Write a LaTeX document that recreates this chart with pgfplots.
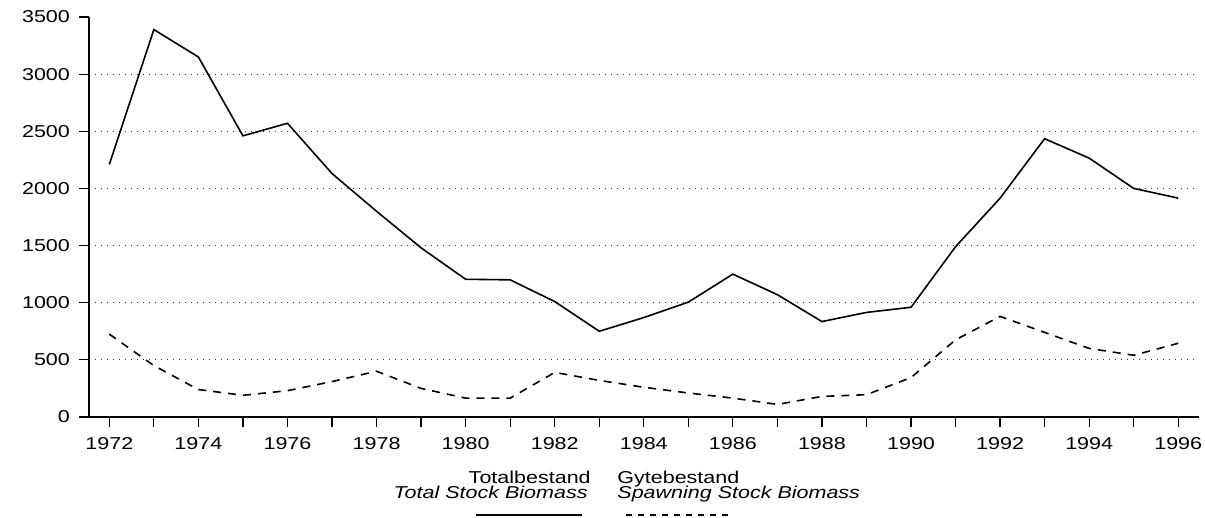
\documentclass[border=0pt]{standalone}
\usepackage{fontspec}
\setmainfont[FakeStretch=1.25]{Liberation Sans}
\usepackage{pgfplots}
\pgfplotsset{compat=1.18}
\begin{document}
\fontsize{8.6pt}{10pt}\selectfont
\begin{tikzpicture}[font=\fontsize{8.6pt}{10pt}\selectfont]
\begin{axis}[
  scale only axis, width=555pt, height=200pt,
  xmin=1971.544, xmax=1996.466, ymin=0, ymax=3500,
  axis x line*=bottom, axis y line*=left,
  clip=false,
  xtick={1972,1974,...,1996}, minor xtick={1973,1975,...,1995},
  ytick={0,500,...,3500},
  tick align=outside, major tick length=5pt, minor tick length=5pt,
  tick style={black, line width=0.6pt},
  axis line style={black, line width=0.6pt},
  /pgf/number format/1000 sep={},
  /pgf/number format/assume math mode=true,
  yticklabel style={xshift=-1.5pt},
  xticklabel style={yshift=-2pt},
  extra y ticks={500,1000,...,3000},
  extra y tick labels={},
  extra y tick style={ymajorgrids=true, major tick length=0pt},
  major grid style={black!80, line width=0.55pt, dash pattern=on 0.6pt off 2.4pt},
]
\addplot[black, line width=0.8pt] coordinates {
(1972,2210) (1973,3390) (1974,3150) (1975,2460) (1976,2570) (1977,2130)
(1978,1800) (1979,1480) (1980,1205) (1981,1200) (1982,1010) (1983,750)
(1984,870) (1985,1005) (1986,1250) (1987,1070) (1988,835) (1989,915)
(1990,960) (1991,1490) (1992,1915) (1993,2435) (1994,2265) (1995,2000)
(1996,1915)};
\addplot[black, line width=0.8pt, dash pattern=on 4pt off 3.5pt] coordinates {
(1972,725) (1973,450) (1974,240) (1975,190) (1976,230) (1977,310)
(1978,400) (1979,250) (1980,165) (1981,165) (1982,390) (1983,320)
(1984,260) (1985,210) (1986,165) (1987,110) (1988,180) (1989,195)
(1990,345) (1991,675) (1992,880) (1993,740) (1994,600) (1995,540)
(1996,645)};
\node[anchor=base east, inner sep=0pt] at (axis description cs:0.4523,-0.1675) {Totalbestand};
\node[anchor=base east, inner sep=0pt] at (axis description cs:0.4495,-0.205) {\itshape Total Stock Biomass};
\node[anchor=base west, inner sep=0pt] at (axis description cs:0.4757,-0.1675) {Gytebestand};
\node[anchor=base west, inner sep=0pt] at (axis description cs:0.4757,-0.205) {\itshape Spawning Stock Biomass};
\draw[line width=0.8pt] (axis description cs:0.3486,-0.245) -- (axis description cs:0.4441,-0.245);
\draw[line width=0.8pt, dash pattern=on 3pt off 3pt] (axis description cs:0.4838,-0.245) -- (axis description cs:0.5793,-0.245);
\coordinate (bbsw) at (axis description cs:-0.0802,-0.2525);
\coordinate (bbne) at (axis description cs:1.00541,1.0425);
\end{axis}
\pgfresetboundingbox
\path[use as bounding box] (bbsw) rectangle (bbne);
\end{tikzpicture}
\end{document}
